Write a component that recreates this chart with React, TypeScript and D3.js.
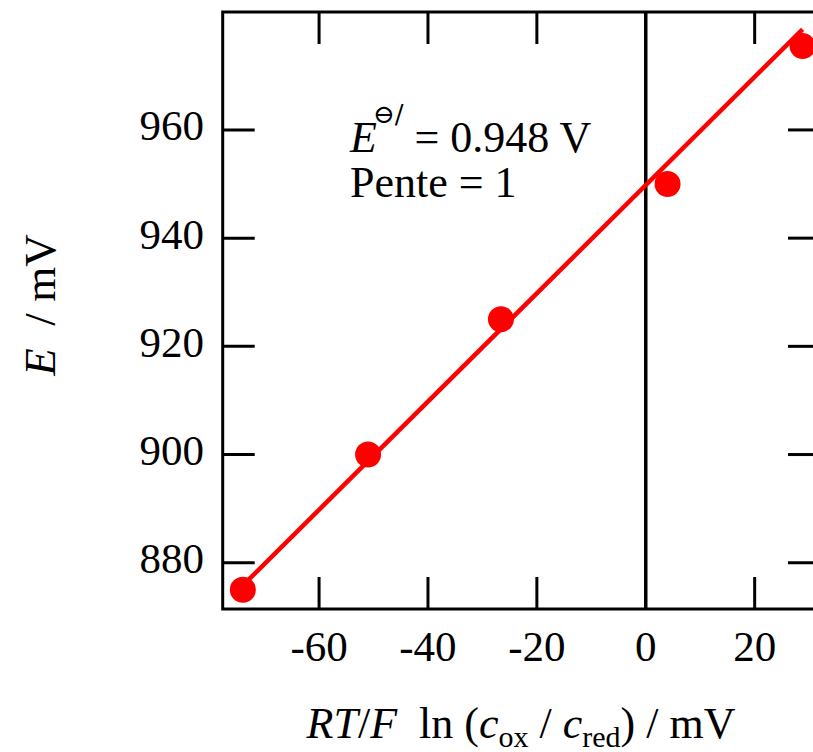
import React from "react";
import * as d3 from "d3";

// Data
const xValues = [-74, -51, -26.6, 4, 28.8];
const eValues = [875, 900, 925, 950, 975.5];
const fitX = [-74, 28.8];
const fitE = [875.8, 978.6];
const xTicks = [-60, -40, -20, 0, 20];
const yTicks = [880, 900, 920, 940, 960];

const W = 813;
const H = 752;
const FONT = "'Liberation Serif', 'Times New Roman', serif";

export default function App() {
  const x = d3.scaleLinear().domain([-77.7, 32]).range([222.7, 820]);
  const y = d3.scaleLinear().domain([871.45, 981.8]).range([609, 12]);
  const [x0, x1] = x.range();
  const [yb, yt] = y.range();
  const tickLen = 32;

  const points = xValues.map((v, i) => ({ x: v, e: eValues[i] }));
  const fit = fitX.map((v, i) => [v, fitE[i]] as [number, number]);
  const line = d3
    .line<[number, number]>()
    .x((d) => x(d[0]))
    .y((d) => y(d[1]));

  return (
    <svg
      width={W}
      height={H}
      style={{ position: "absolute", left: 0, top: 0, background: "#fff" }}
      fontFamily={FONT}
    >
      {/* frame */}
      <rect
        x={x0}
        y={yt}
        width={x1 - x0}
        height={yb - yt}
        fill="none"
        stroke="#000"
        strokeWidth={3}
      />
      {/* zero line */}
      <line x1={x(0)} x2={x(0)} y1={yt} y2={yb} stroke="#000" strokeWidth={3.5} />

      {/* x ticks (bottom & top, inward) */}
      {xTicks
        .filter((t) => t !== 0)
        .map((t) => (
          <g key={"xt" + t}>
            <line x1={x(t)} x2={x(t)} y1={yb} y2={yb - tickLen} stroke="#000" strokeWidth={3} />
            <line x1={x(t)} x2={x(t)} y1={yt} y2={yt + tickLen} stroke="#000" strokeWidth={3} />
          </g>
        ))}
      {xTicks.map((t) => (
        <text
          key={"xl" + t}
          x={x(t)}
          y={661}
          textAnchor="middle"
          fontSize={43}
          fill="#000"
        >
          {t < 0 ? "-" + Math.abs(t) : String(t)}
        </text>
      ))}

      {/* y ticks (left & right, inward) */}
      {yTicks.map((t) => (
        <g key={"yt" + t}>
          <line x1={x0} x2={x0 + tickLen} y1={y(t)} y2={y(t)} stroke="#000" strokeWidth={3} />
          <line x1={x1} x2={x1 - tickLen} y1={y(t)} y2={y(t)} stroke="#000" strokeWidth={3} />
          <text x={204} y={y(t) + 10.5} textAnchor="end" fontSize={43} fill="#000">
            {t}
          </text>
        </g>
      ))}

      {/* fit line */}
      <path d={line(fit) || ""} fill="none" stroke="#ff0000" strokeWidth={4.5} />
      {/* data points */}
      {points.map((p, i) => (
        <circle key={i} cx={x(p.x)} cy={y(p.e)} r={13} fill="#ff0000" />
      ))}

      {/* annotation */}
      <text x={350} y={152} fontSize={44} fill="#000">
        <tspan fontStyle="italic">E</tspan>
        <tspan
          fontSize={26}
          dx={-4}
          dy={-29}
          fontFamily="'DejaVu Serif', 'DejaVu Sans', serif"
        >
          ⊖/
        </tspan>
        <tspan dy={29}> = 0.948 V</tspan>
      </text>
      <text x={350} y={197} fontSize={44} fill="#000">
        Pente = 1
      </text>

      {/* x axis title */}
      <text x={521} y={738} textAnchor="middle" fontSize={44} fill="#000" xmlSpace="preserve">
        <tspan fontStyle="italic">RT</tspan>
        <tspan>/</tspan>
        <tspan fontStyle="italic">F</tspan>
        <tspan>{"  ln ("}</tspan>
        <tspan fontStyle="italic">c</tspan>
        <tspan fontSize={30} dy={9}>ox</tspan>
        <tspan dy={-9}>{" / "}</tspan>
        <tspan fontStyle="italic">c</tspan>
        <tspan fontSize={30} dy={9}>red</tspan>
        <tspan dy={-9}>{") / mV"}</tspan>
      </text>

      {/* y axis title */}
      <text
        transform="translate(55,305) rotate(-90)"
        textAnchor="middle"
        fontSize={45}
        fill="#000"
        xmlSpace="preserve"
      >
        <tspan fontStyle="italic">E</tspan>
        <tspan>{"  / mV"}</tspan>
      </text>
    </svg>
  );
}
